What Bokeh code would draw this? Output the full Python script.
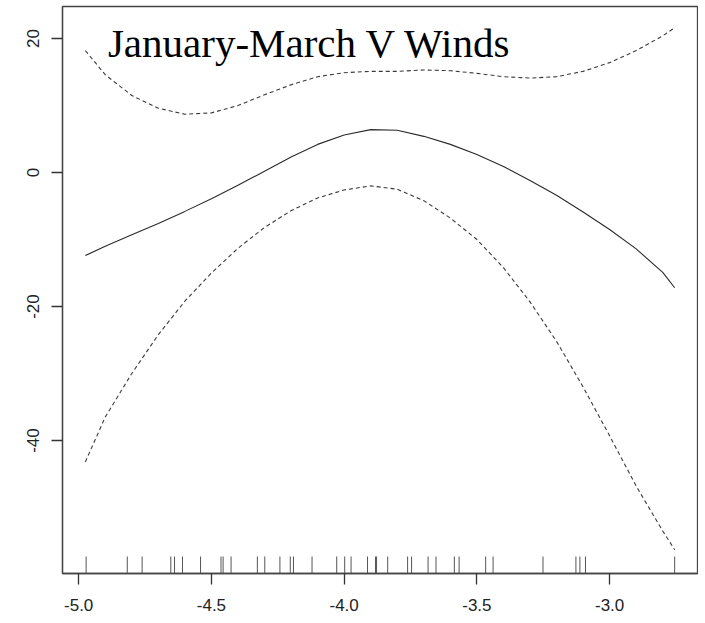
from bokeh.plotting import figure
from bokeh.models import Range1d, FixedTicker, PrintfTickFormatter, Label
from bokeh.embed import file_html
from bokeh.resources import INLINE

# ---- data ----
x_fit = [-4.975, -4.9, -4.8, -4.7, -4.6, -4.5, -4.4, -4.3, -4.2, -4.1, -4.0, -3.9,
         -3.8, -3.7, -3.6, -3.5, -3.4, -3.3, -3.2, -3.1, -3.0, -2.9, -2.8, -2.755]
fit = [-12.4, -11.0, -9.3, -7.6, -5.8, -3.9, -1.9, 0.2, 2.3, 4.2, 5.6, 6.4,
       6.3, 5.4, 4.2, 2.7, 0.9, -1.2, -3.4, -5.9, -8.5, -11.4, -14.9, -17.2]
upper = [18.2, 14.6, 11.5, 9.6, 8.7, 8.9, 10.0, 11.6, 13.1, 14.3, 14.9, 15.1,
         15.1, 15.3, 15.2, 14.8, 14.3, 14.1, 14.3, 15.1, 16.4, 18.2, 20.4, 21.6]
lower = [-43.2, -36.5, -30.0, -24.2, -19.2, -15.0, -11.3, -8.2, -5.7, -3.8, -2.6, -2.0,
         -2.5, -4.2, -6.8, -10.0, -14.2, -19.3, -25.2, -32.0, -39.3, -46.8, -53.5, -56.3]
rug = [-4.972, -4.817, -4.761, -4.653, -4.639, -4.609, -4.541, -4.464, -4.456, -4.426,
       -4.327, -4.299, -4.242, -4.203, -4.191, -4.121, -4.028, -3.998, -3.974, -3.912,
       -3.882, -3.878, -3.836, -3.761, -3.746, -3.684, -3.654, -3.585, -3.567, -3.467,
       -3.439, -3.251, -3.127, -3.112, -3.091, -2.755]
x_ticks = [-5.0, -4.5, -4.0, -3.5, -3.0]
y_ticks = [-40, -20, 0, 20]
title_text = "January-March V Winds"

x_lo, x_hi = -5.061, -2.669
y_lo, y_hi = -59.85, 24.78

p = figure(width=698, height=622, output_backend="svg", toolbar_location=None,
           x_range=Range1d(x_lo, x_hi), y_range=Range1d(y_lo, y_hi),
           min_border_left=62, min_border_right=1, min_border_top=6, min_border_bottom=49)
p.background_fill_color = "white"
p.border_fill_color = "white"
p.grid.visible = False
p.outline_line_color = "#444444"
p.outline_line_width = 1.3

p.line(x_fit, fit, line_color="#2a2a2a", line_width=1.1)
p.line(x_fit, upper, line_color="#3a3a3a", line_width=1.1, line_dash="4 3")
p.line(x_fit, lower, line_color="#3a3a3a", line_width=1.1, line_dash="4 3")

rug_len = 0.03 * (y_hi - y_lo)
p.segment(x0=rug, x1=rug, y0=[y_lo] * len(rug), y1=[y_lo + rug_len] * len(rug),
          line_color="#555555", line_width=1)

for ax in (p.xaxis[0], p.yaxis[0]):
    ax.axis_line_color = "#444444"
    ax.axis_line_width = 1.3
    ax.major_tick_line_color = "#333333"
    ax.major_tick_line_width = 1.3
    ax.major_tick_out = 11
    ax.major_tick_in = 0
    ax.minor_tick_line_color = None
    ax.major_label_text_font = "Liberation Sans"
    ax.major_label_text_font_size = "17px"
    ax.major_label_text_color = "#222222"

p.xaxis.ticker = FixedTicker(ticks=x_ticks)
p.xaxis.formatter = PrintfTickFormatter(format="%.1f")
p.xaxis.major_label_standoff = 14
p.yaxis.ticker = FixedTicker(ticks=y_ticks)
p.yaxis.formatter = PrintfTickFormatter(format="%d")
p.yaxis.major_label_orientation = "parallel"
p.yaxis.major_label_standoff = 12

title = Label(x=-4.89, y=19.35, text=title_text, text_font="Liberation Serif",
              text_font_size="41px", text_color="black", text_baseline="alphabetic")
p.add_layout(title)

open("out.html", "w").write(file_html(p, INLINE))
